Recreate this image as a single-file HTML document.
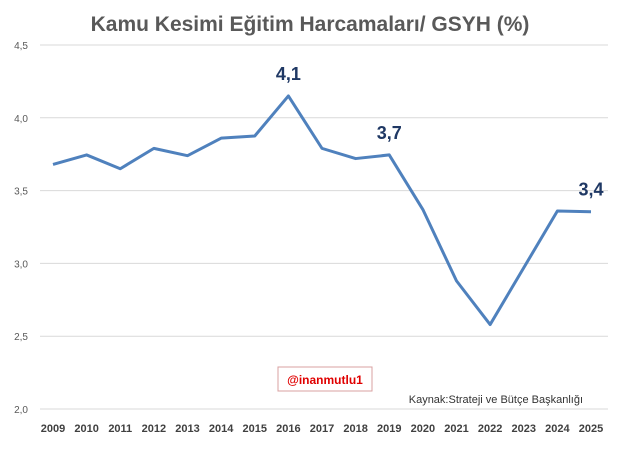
<!DOCTYPE html>
<html><head><meta charset="utf-8"><style>
body{margin:0;background:#fff;font-family:"Liberation Sans",sans-serif}
svg text{font-family:"Liberation Sans",sans-serif}
</style></head><body>
<svg id="chart" width="620" height="446">
<rect x="0" y="0" width="620" height="446" fill="#fff"/>
<text x="310" y="31" text-anchor="middle" font-size="21" font-weight="bold" fill="#595959">Kamu Kesimi Eğitim Harcamaları/ GSYH (%)</text>
<g id="grid"></g><g id="yticks"></g><g id="xticks"></g>
<polyline id="line" fill="none" stroke="#4f81bd" stroke-width="3" stroke-linejoin="round"/>
<g id="labels"></g>
<rect x="278" y="367" width="94" height="24" fill="#fff" stroke="#d9a0a0"/>
<text x="325" y="384" text-anchor="middle" font-size="12" font-weight="bold" fill="#e00000">@inanmutlu1</text>
<text x="583" y="403" text-anchor="end" font-size="11" fill="#333">Kaynak:Strateji ve Bütçe Başkanlığı</text>
</svg>
<script>
const years=["2009","2010","2011","2012","2013","2014","2015","2016","2017","2018","2019","2020","2021","2022","2023","2024","2025"];
const values=[3.68,3.745,3.65,3.79,3.74,3.86,3.875,4.15,3.79,3.72,3.745,3.37,2.88,2.58,2.97,3.36,3.355];
const yTicks=[2.0,2.5,3.0,3.5,4.0,4.5];
const yTickLabels=["2,0","2,5","3,0","3,5","4,0","4,5"];
const annotIdx=[7,10,16];
const annotText=["4,1","3,7","3,4"];
const NS="http://www.w3.org/2000/svg";
const x=i=>53+i*(591-53)/(years.length-1);
const y=v=>409-(v-2)*(409-45)/2.5;
function mk(tag,attrs,parent,txt){const e=document.createElementNS(NS,tag);for(const k in attrs)e.setAttribute(k,attrs[k]);if(txt!==undefined)e.textContent=txt;document.getElementById(parent).appendChild(e);return e;}
yTicks.forEach((t,i)=>{
 const g=mk('line',{x1:40,x2:608,y1:y(t),y2:y(t),stroke:'#d9d9d9','stroke-width':1},'grid');
 
 
 const l=mk('text',{x:28,y:y(t)+4,'text-anchor':'end','font-size':10,fill:'#595959'},'yticks',yTickLabels[i]);
 
 
});
years.forEach((yr,i)=>{
 const l=mk('text',{x:x(i),y:432,'text-anchor':'middle','font-size':11,'font-weight':'bold',fill:'#404040'},'xticks',yr);
 
 
});
document.getElementById('line').setAttribute('points',values.map((v,i)=>x(i)+','+y(v)).join(' '));
annotIdx.forEach((idx,k)=>{
 const l=mk('text',{x:x(idx),y:y(values[idx])-16,'text-anchor':'middle','font-size':18,'font-weight':'bold',fill:'#1f3864'},'labels',annotText[k]);
 
 
});
</script>
</body></html>
